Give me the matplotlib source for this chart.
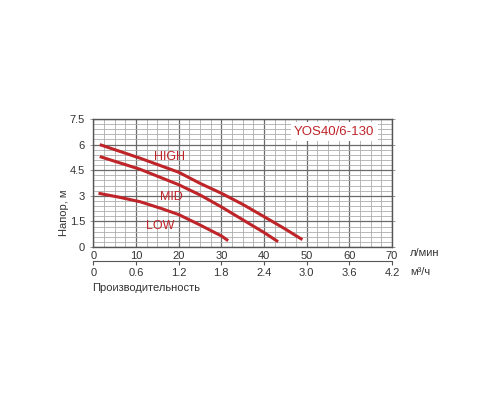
import matplotlib.pyplot as plt
from matplotlib.ticker import MultipleLocator

plt.rcParams['font.family'] = ['Liberation Sans', 'DejaVu Sans']

# расход, л/мин и напор, м
high_x = [1.5, 11, 20, 25, 30, 35, 40, 45, 49]
high_y = [6.0, 5.2, 4.38, 3.73, 3.15, 2.5, 1.78, 1.05, 0.43]
mid_x = [1.5, 11, 20, 25, 30, 35, 40, 43.3]
mid_y = [5.3, 4.55, 3.65, 3.05, 2.35, 1.6, 0.85, 0.31]
low_x = [1.2, 6, 11, 16, 20, 25, 30, 31.6]
low_y = [3.15, 2.92, 2.65, 2.25, 1.9, 1.29, 0.65, 0.37]

lpm_ticks = [0, 10, 20, 30, 40, 50, 60, 70]
m3h_labels = ['0', '0.6', '1.2', '1.8', '2.4', '3.0', '3.6', '4.2']
head_ticks = [0, 1.5, 3, 4.5, 6, 7.5]
head_labels = ['0', '1.5', '3', '4.5', '6', '7.5']

red = '#bf2429'
txt = '#333333'

fig = plt.figure(figsize=(5, 4), dpi=100)
ax = fig.add_axes([0.1867, 0.3825, 0.5973, 0.32])

ax.set_xlim(0, 70)
ax.set_ylim(0, 7.5)
ax.set_xticks(lpm_ticks)
ax.set_yticks(head_ticks)
ax.set_yticklabels(head_labels)
ax.xaxis.set_minor_locator(MultipleLocator(2.5))
ax.yaxis.set_minor_locator(MultipleLocator(0.3))
ax.grid(which='major', color='#6a6a6a', linewidth=0.9)
ax.grid(which='minor', color='#adadad', linewidth=0.6)
ax.set_axisbelow(True)
ax.tick_params(which='both', length=0, labelsize=8, colors=txt)
ax.tick_params(axis='x', pad=3)
ax.tick_params(axis='y', pad=4)
# мелкие риски справа
ax.tick_params(axis='y', which='major', right=True, direction='out', length=2,
               width=0.6, color='#888888')
for s in ax.spines.values():
    s.set_color('#555555')
    s.set_linewidth(1.0)

for xs, ys in [(high_x, high_y), (mid_x, mid_y), (low_x, low_y)]:
    ax.plot(xs, ys, color=red, linewidth=2.2, solid_capstyle='butt')

ax.text(17.8, 5.25, 'HIGH', color=red, fontsize=9, ha='center', va='center')
ax.text(18.4, 2.95, 'MID', color=red, fontsize=9, ha='center', va='center')
ax.text(15.6, 1.23, 'LOW', color=red, fontsize=9, ha='center', va='center')

ax.text(56.5, 6.75, 'YOS40/6-130', color=red, fontsize=9.5, ha='center', va='center',
        bbox=dict(facecolor='white', edgecolor='none', pad=2.5))

sec = ax.secondary_xaxis(-0.107)
sec.set_xticks(lpm_ticks)
sec.set_xticklabels(m3h_labels)
sec.tick_params(length=3, width=0.8, color='#555555', labelsize=8, colors=txt, pad=2)
sec.spines['bottom'].set_color('#555555')

fig.text(410 / 500, 1 - 253 / 400, 'л/мин', fontsize=8, color=txt, va='center')
fig.text(410 / 500, 1 - 272 / 400, 'м³/ч', fontsize=8, color=txt, va='center')
fig.text(92 / 500, 1 - 288 / 400, 'Производительность', fontsize=8, color=txt, va='center')
fig.text(64 / 500, 1 - 213 / 400, 'Напор, м', fontsize=8, color=txt, rotation=90,
         ha='center', va='center')

fig.savefig('out.png', dpi=100)
